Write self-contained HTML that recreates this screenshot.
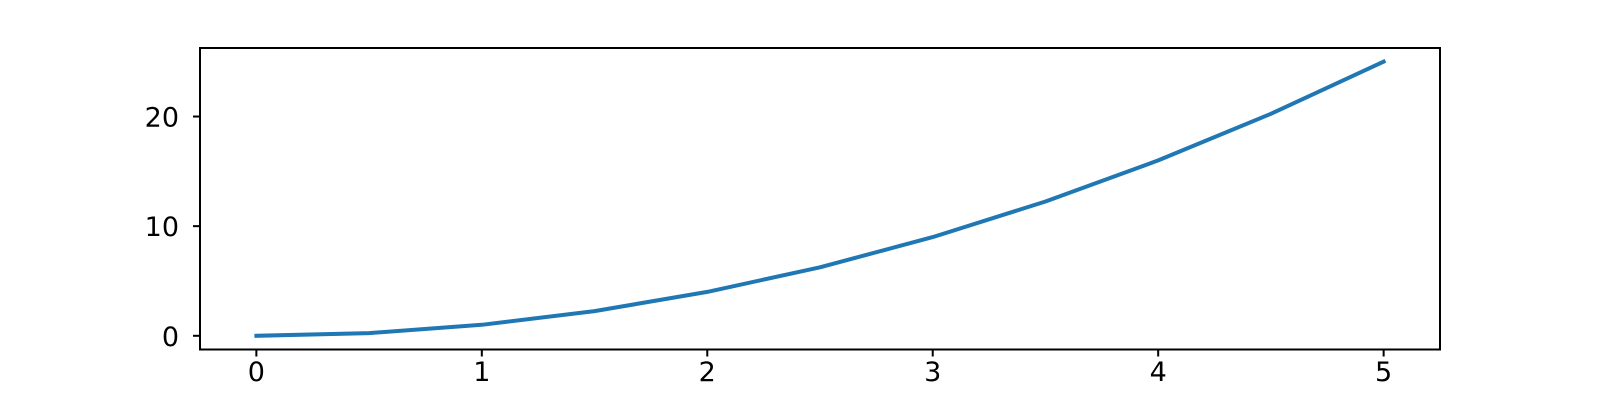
<!DOCTYPE html>
<html><head><meta charset="utf-8"><style>
html,body{margin:0;padding:0;background:#fff;width:1600px;height:400px;overflow:hidden}
svg text{font-family:"DejaVu Sans","Liberation Sans",sans-serif;font-size:27px;fill:#000}
</style></head><body>
<svg id="chart" width="1600" height="400" xmlns="http://www.w3.org/2000/svg">
<g id="plot"></g>
</svg>
<script>
const xValues = [0, 0.5, 1, 1.5, 2, 2.5, 3, 3.5, 4, 4.5, 5];
const yValues = [0, 0.25, 1, 2.25, 4, 6.25, 9, 12.25, 16, 20.25, 25];
const xTicks = [0, 1, 2, 3, 4, 5];
const yTicks = [0, 10, 20];

const NS = 'http://www.w3.org/2000/svg';
const plotG = document.getElementById('plot');
const plotL = 200, plotR = 1440, plotT = 48, plotB = 349.5;
const xMin = -0.25, xMax = 5.25, yMin = -1.25, yMax = 26.25;
const sx = v => plotL + (v - xMin) / (xMax - xMin) * (plotR - plotL);
const sy = v => plotB - (v - yMin) / (yMax - yMin) * (plotB - plotT);
function mk(tag, attrs) { const e = document.createElementNS(NS, tag); for (const k in attrs) e.setAttribute(k, attrs[k]); plotG.appendChild(e); return e; }

const pts = xValues.map((x, i) => sx(x).toFixed(1) + ',' + sy(yValues[i]).toFixed(1)).join(' ');
const seriesLine = mk('polyline', {points: pts, fill: 'none', stroke: '#1f77b4', 'stroke-width': 4, 'stroke-linejoin': 'round', 'stroke-linecap': 'square'});



const frame = mk('rect', {x: plotL, y: plotT, width: plotR - plotL, height: plotB - plotT, fill: 'none', stroke: '#000', 'stroke-width': 2});



xTicks.forEach(t => {
  const x = sx(t);
  const tk = mk('line', {x1: x, x2: x, y1: plotB, y2: plotB + 7, stroke: '#000', 'stroke-width': 2});
  
  
  const tx = mk('text', {x: x, y: 381, 'text-anchor': 'middle'});
  tx.textContent = t;
  
  
});
yTicks.forEach(t => {
  const y = sy(t);
  const tk = mk('line', {x1: plotL - 7, x2: plotL, y1: y, y2: y, stroke: '#000', 'stroke-width': 2});
  
  
  const tx = mk('text', {x: 179, y: y + 10, 'text-anchor': 'end'});
  tx.textContent = t;
  
  
});
</script>
</body></html>
